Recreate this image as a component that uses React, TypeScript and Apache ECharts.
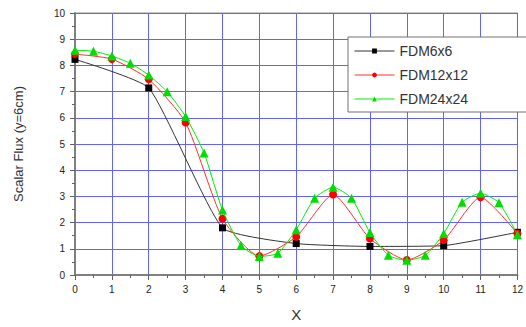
import React, { useEffect, useRef } from "react";
import * as echarts from "echarts";

const seriesNames = ["FDM6x6", "FDM12x12", "FDM24x24"];
const x6 = [0, 2, 4, 6, 8, 10, 12];
const y6 = [8.23, 7.14, 1.8, 1.2, 1.09, 1.12, 1.63];
const x12 = [0, 1, 2, 3, 4, 5, 6, 7, 8, 9, 10, 11, 12];
const y12 = [8.43, 8.24, 7.47, 5.82, 2.15, 0.72, 1.46, 3.07, 1.39, 0.57, 1.33, 2.97, 1.58];
const x24 = [0, 0.5, 1, 1.5, 2, 2.5, 3, 3.5, 4, 4.5, 5, 5.5, 6, 6.5, 7, 7.5, 8, 8.5, 9, 9.5, 10, 10.5, 11, 11.5, 12];
const y24 = [8.58, 8.54, 8.36, 8.08, 7.63, 6.99, 6.05, 4.66, 2.48, 1.13, 0.71, 0.83, 1.73, 2.93, 3.35, 2.93, 1.62, 0.75, 0.56, 0.75, 1.58, 2.78, 3.12, 2.76, 1.54];
const xTicks = [0, 1, 2, 3, 4, 5, 6, 7, 8, 9, 10, 11, 12];
const yTicks = [0, 1, 2, 3, 4, 5, 6, 7, 8, 9, 10];

const pairs = (xs: number[], ys: number[]) => xs.map((x, i) => [x, ys[i]]);

export default function App() {
  const ref = useRef<HTMLDivElement>(null);
  useEffect(() => {
    if (!ref.current) return;
    const chart = echarts.init(ref.current, null, { renderer: "svg" });
    const font = "Liberation Sans, Arial, sans-serif";
    const axisCommon = {
      axisLine: { show: true, lineStyle: { color: "#808080", width: 2 } },
      axisTick: { show: true, inside: false, length: 5, lineStyle: { color: "#606060", width: 1 } },
      minorTick: { show: true, splitNumber: 2, length: 3, lineStyle: { color: "#606060" } },
      splitLine: { show: true, lineStyle: { color: "#6262ff", width: 1 } },
      axisLabel: { color: "#222", fontSize: 10, fontFamily: font },
    };
    chart.setOption({
      animation: false,
      backgroundColor: "#fff",
      grid: { left: 75, right: 8, top: 13, bottom: 48, show: true, borderColor: "#909090", borderWidth: 1 },
      xAxis: {
        type: "value",
        min: xTicks[0],
        max: xTicks[xTicks.length - 1],
        interval: 1,
        name: "X",
        nameLocation: "middle",
        nameGap: 32,
        nameTextStyle: { fontSize: 15, color: "#333", fontFamily: font },
        ...axisCommon,
        axisLabel: { ...axisCommon.axisLabel, margin: 9 },
      },
      yAxis: {
        type: "value",
        min: yTicks[0],
        max: yTicks[yTicks.length - 1],
        interval: 1,
        name: "Scalar Flux (y=6cm)",
        nameLocation: "middle",
        nameGap: 50,
        nameTextStyle: { fontSize: 13, color: "#333", fontFamily: font },
        ...axisCommon,
        axisLabel: { ...axisCommon.axisLabel, margin: 10 },
      },
      legend: {
        orient: "vertical",
        left: 348,
        top: 37,
        width: 140,
        backgroundColor: "#fff",
        borderColor: "#707070",
        borderWidth: 1,
        padding: [7, 90, 6, 6],
        itemWidth: 40,
        itemHeight: 6,
        itemGap: 10,
        lineStyle: { width: 1 },
        textStyle: { fontSize: 14, color: "#333", fontFamily: font },
        data: seriesNames,
      },
      series: [
        {
          name: seriesNames[0],
          type: "line",
          data: pairs(x6, y6),
          smooth: 0.15,
          symbol: "rect",
          symbolSize: 7,
          itemStyle: { color: "#000" },
          lineStyle: { color: "#333", width: 1 },
          z: 3,
        },
        {
          name: seriesNames[1],
          type: "line",
          data: pairs(x12, y12),
          smooth: 0.2,
          symbol: "circle",
          symbolSize: 8,
          itemStyle: { color: "#ff0000" },
          lineStyle: { color: "#ff3030", width: 1 },
          z: 4,
        },
        {
          name: seriesNames[2],
          type: "line",
          data: pairs(x24, y24),
          smooth: 0.2,
          symbol: "triangle",
          symbolSize: 9,
          itemStyle: { color: "#00dd00" },
          lineStyle: { color: "#00ee00", width: 1 },
          z: 5,
        },
      ],
    });
    return () => chart.dispose();
  }, []);
  return <div ref={ref} style={{ width: 526, height: 327, position: "absolute", left: 0, top: 0 }} />;
}
